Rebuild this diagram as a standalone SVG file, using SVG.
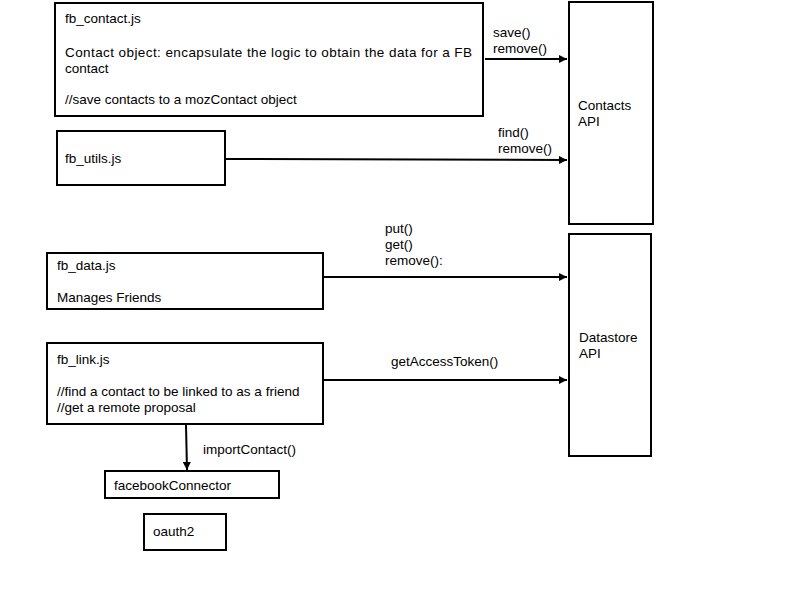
<svg xmlns="http://www.w3.org/2000/svg" width="800" height="600" viewBox="0 0 800 600">
<style>
rect{fill:#fff;stroke:#000;stroke-width:2}
text{font-family:"Liberation Sans",Arial,sans-serif;font-size:13.5px;fill:#000}
.c{stroke:#000;stroke-width:2;fill:none}
</style>
<defs><marker id="b" viewBox="0 0 10 10" refX="10" refY="5" markerWidth="12" markerHeight="8" markerUnits="userSpaceOnUse" orient="auto"><path d="M0,0L10,5L0,10z" fill="#000"/></marker></defs>
<rect width="800" height="600" style="fill:#fff;stroke:none"/>
<g id="fb_contact"><rect x="55" y="3" width="428" height="113"/><text x="65" y="23">fb_contact.js</text><text x="65" y="57" textLength="407" lengthAdjust="spacing">Contact object: encapsulate the logic to obtain the data for a FB</text><text x="65" y="73">contact</text><text x="65" y="104">//save contacts to  a mozContact object</text></g>
<g id="contacts_api"><rect x="569" y="2" width="84" height="222"/><text x="578" y="110">Contacts</text><text x="578" y="126">API</text></g>
<g id="fb_utils"><rect x="57" y="131" width="168" height="54"/><text x="65" y="163">fb_utils.js</text></g>
<g id="datastore_api"><rect x="569" y="234" width="82" height="222"/><text x="579" y="342">Datastore</text><text x="579" y="358">API</text></g>
<g id="fb_data"><rect x="47" y="253" width="276" height="56"/><text x="57" y="270">fb_data.js</text><text x="57" y="302">Manages Friends</text></g>
<g id="fb_link"><rect x="47" y="343" width="276" height="81"/><text x="57" y="364">fb_link.js</text><text x="57" y="396">//find a contact to be linked to as a friend</text><text x="57" y="412">//get a remote proposal</text></g>
<g id="facebookConnector"><rect x="105" y="471" width="174" height="27"/><text x="114" y="490">facebookConnector</text></g>
<g id="oauth2"><rect x="144" y="514" width="82" height="36"/><text x="153" y="536">oauth2</text></g>
<g id="connectors">
<path class="c" d="M485,59H567" marker-end="url(#b)"/>
<path class="c" d="M225,159L567,160" marker-end="url(#b)"/>
<path class="c" d="M323,277H567" marker-end="url(#b)"/>
<path class="c" d="M323,380H567" marker-end="url(#b)"/>
<path class="c" d="M186,425L187,470" marker-end="url(#b)"/>
<text x="493" y="37">save()</text><text x="493" y="53">remove()</text>
<text x="498" y="137">find()</text><text x="498" y="153">remove()</text>
<text x="385" y="233">put()</text><text x="385" y="249">get()</text><text x="385" y="265">remove():</text>
<text x="391" y="366">getAccessToken()</text>
<text x="203" y="454">importContact()</text>
</g>
</svg>
